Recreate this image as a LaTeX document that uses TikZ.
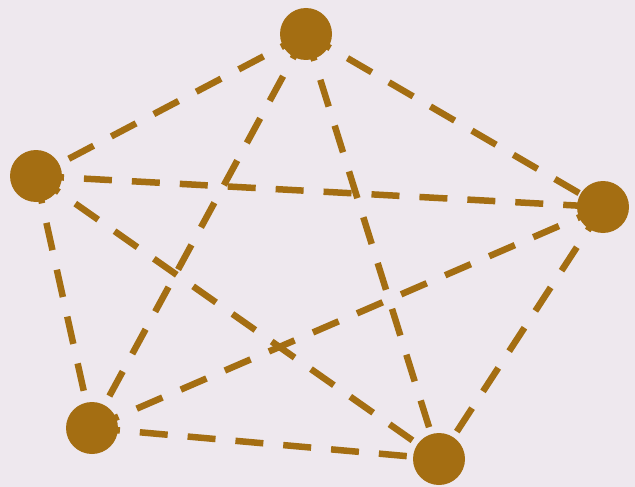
\documentclass[tikz,border=0pt]{standalone}
\usepackage{tikz}
\usetikzlibrary{backgrounds}
\usepackage{xcolor}
\definecolor{ochre}{RGB}{164,110,18}
\definecolor{paper}{RGB}{238,232,238}

\begin{document}
\begin{tikzpicture}[x=1pt, y=-1pt,
    vertex/.style={circle, fill=ochre, inner sep=0pt, minimum size=52pt},
    edge/.style={draw=ochre, line width=6.5pt, dash pattern=on 28pt off 20pt}]
    \useasboundingbox (0,0) rectangle (635,487);

    \node[vertex] (top) at (306, 34) {};
    \node[vertex] (left) at (36, 176) {};
    \node[vertex] (right) at (603, 207) {};
    \node[vertex] (botleft) at (92, 428) {};
    \node[vertex] (botright) at (439, 459) {};

    \begin{scope}[on background layer]
      \fill[paper] (0,0) rectangle (635,487);
      \foreach \a/\b in {top/left, top/right, top/botleft, top/botright,
                         left/right, left/botleft, left/botright,
                         right/botleft, right/botright, botleft/botright}
        \draw[edge] (\a.center) -- (\b.center);
    \end{scope}
  \end{tikzpicture}
\end{document}
